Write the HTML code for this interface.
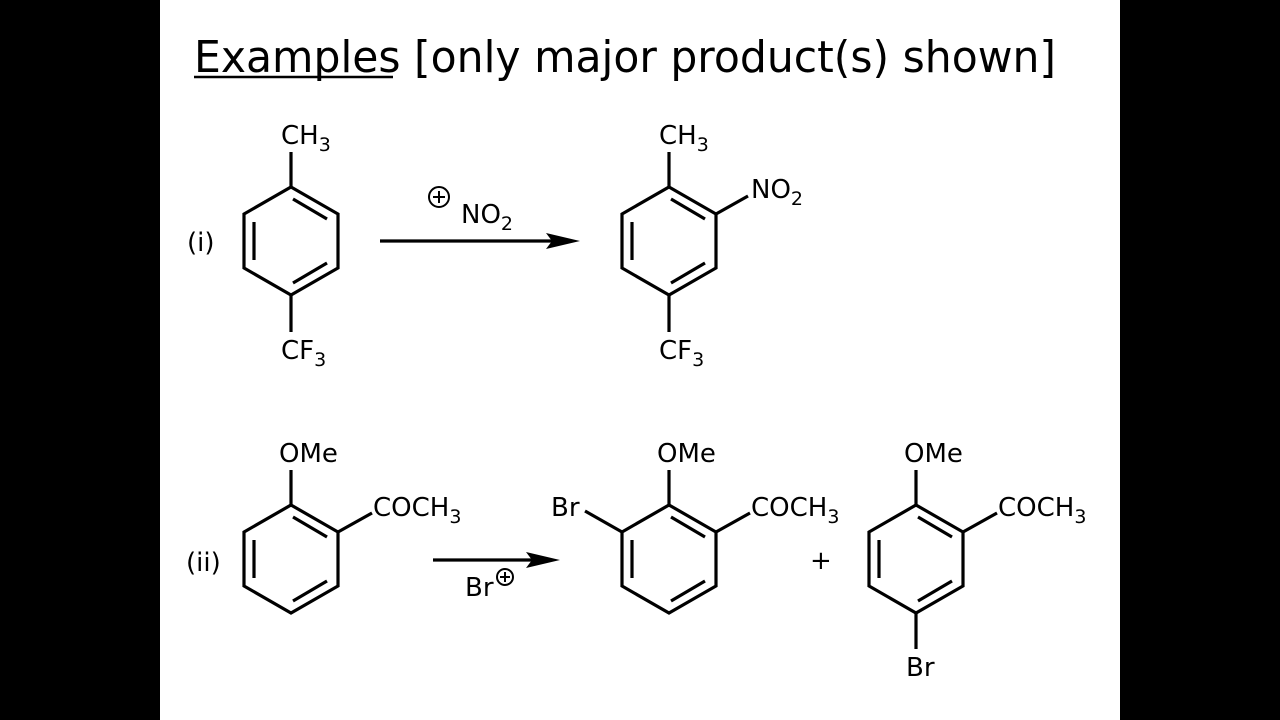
<!DOCTYPE html>
<html><head><meta charset="utf-8"><style>
html,body{margin:0;padding:0;background:#000;}
svg{display:block;}
text{font-family:"DejaVu Sans","Liberation Sans",sans-serif;fill:#000;}
</style></head><body>
<svg width="1280" height="720" viewBox="0 0 1280 720" xmlns="http://www.w3.org/2000/svg">
<rect x="0" y="0" width="1280" height="720" fill="#000"/>
<rect x="160" y="0" width="960" height="720" fill="#fff"/>
<text x="194" y="72" font-size="44" textLength="862" lengthAdjust="spacingAndGlyphs">Examples [only major product(s) shown]</text>
<line x1="194" y1="77" x2="393" y2="77" stroke="#000" stroke-width="2.5"/>
<defs>
<g id="ring" stroke="#000" stroke-width="3.2" fill="none" stroke-linejoin="miter">
<polygon points="0,-54 47,-27 47,27 0,54 -47,27 -47,-27"/>
<line x1="-37" y1="-19" x2="-37" y2="19"/>
<line x1="2" y1="-42" x2="36" y2="-22"/>
<line x1="2" y1="42" x2="36" y2="22"/>
</g>
</defs>
<g stroke="#000" stroke-width="3.2" fill="none">
<use href="#ring" x="291" y="241"/>
<line x1="291" y1="187" x2="291" y2="152"/>
<line x1="291" y1="295" x2="291" y2="332"/>
<use href="#ring" x="669" y="241"/>
<line x1="669" y1="187" x2="669" y2="152"/>
<line x1="669" y1="295" x2="669" y2="332"/>
<line x1="716" y1="214" x2="748" y2="196"/>
<line x1="380" y1="241" x2="552" y2="241"/>
<use href="#ring" x="291" y="559"/>
<line x1="291" y1="505" x2="291" y2="470"/>
<line x1="338" y1="532" x2="372" y2="513"/>
<use href="#ring" x="669" y="559"/>
<line x1="669" y1="505" x2="669" y2="470"/>
<line x1="716" y1="532" x2="750" y2="513"/>
<line x1="622" y1="532" x2="585" y2="511"/>
<use href="#ring" x="916" y="559"/>
<line x1="916" y1="505" x2="916" y2="470"/>
<line x1="963" y1="532" x2="997" y2="513"/>
<line x1="916" y1="613" x2="916" y2="649"/>
<line x1="433" y1="560" x2="532" y2="560"/>
</g>
<polygon points="580,241 546,233 552,241 546,249" fill="#000"/>
<polygon points="560,560 526,552 532,560 526,568" fill="#000"/>
<g font-size="26">
<text x="187" y="251">(i)</text>
<text x="186" y="571">(ii)</text>
<text x="281" y="144">CH<tspan font-size="19" dy="7">3</tspan></text>
<text x="281" y="359">CF<tspan font-size="19" dy="7">3</tspan></text>
<text x="659" y="144">CH<tspan font-size="19" dy="7">3</tspan></text>
<text x="659" y="359">CF<tspan font-size="19" dy="7">3</tspan></text>
<text x="751" y="198">NO<tspan font-size="19" dy="7">2</tspan></text>
<text x="461" y="223">NO<tspan font-size="19" dy="7">2</tspan></text>
<text x="279" y="462">OMe</text>
<text x="373" y="516">COCH<tspan font-size="19" dy="7">3</tspan></text>
<text x="657" y="462">OMe</text>
<text x="751" y="516">COCH<tspan font-size="19" dy="7">3</tspan></text>
<text x="551" y="516">Br</text>
<text x="904" y="462">OMe</text>
<text x="998" y="516">COCH<tspan font-size="19" dy="7">3</tspan></text>
<text x="906" y="676">Br</text>
<text x="465" y="596">Br</text>
<text x="810" y="569">+</text>
</g>
<g stroke="#000" stroke-width="2" fill="none">
<circle cx="439" cy="197" r="10"/>
<line x1="433" y1="197" x2="445" y2="197"/><line x1="439" y1="191" x2="439" y2="203"/>
<circle cx="505" cy="577" r="8"/>
<line x1="500" y1="577" x2="510" y2="577"/><line x1="505" y1="572" x2="505" y2="582"/>
</g>
</svg>
</body></html>
